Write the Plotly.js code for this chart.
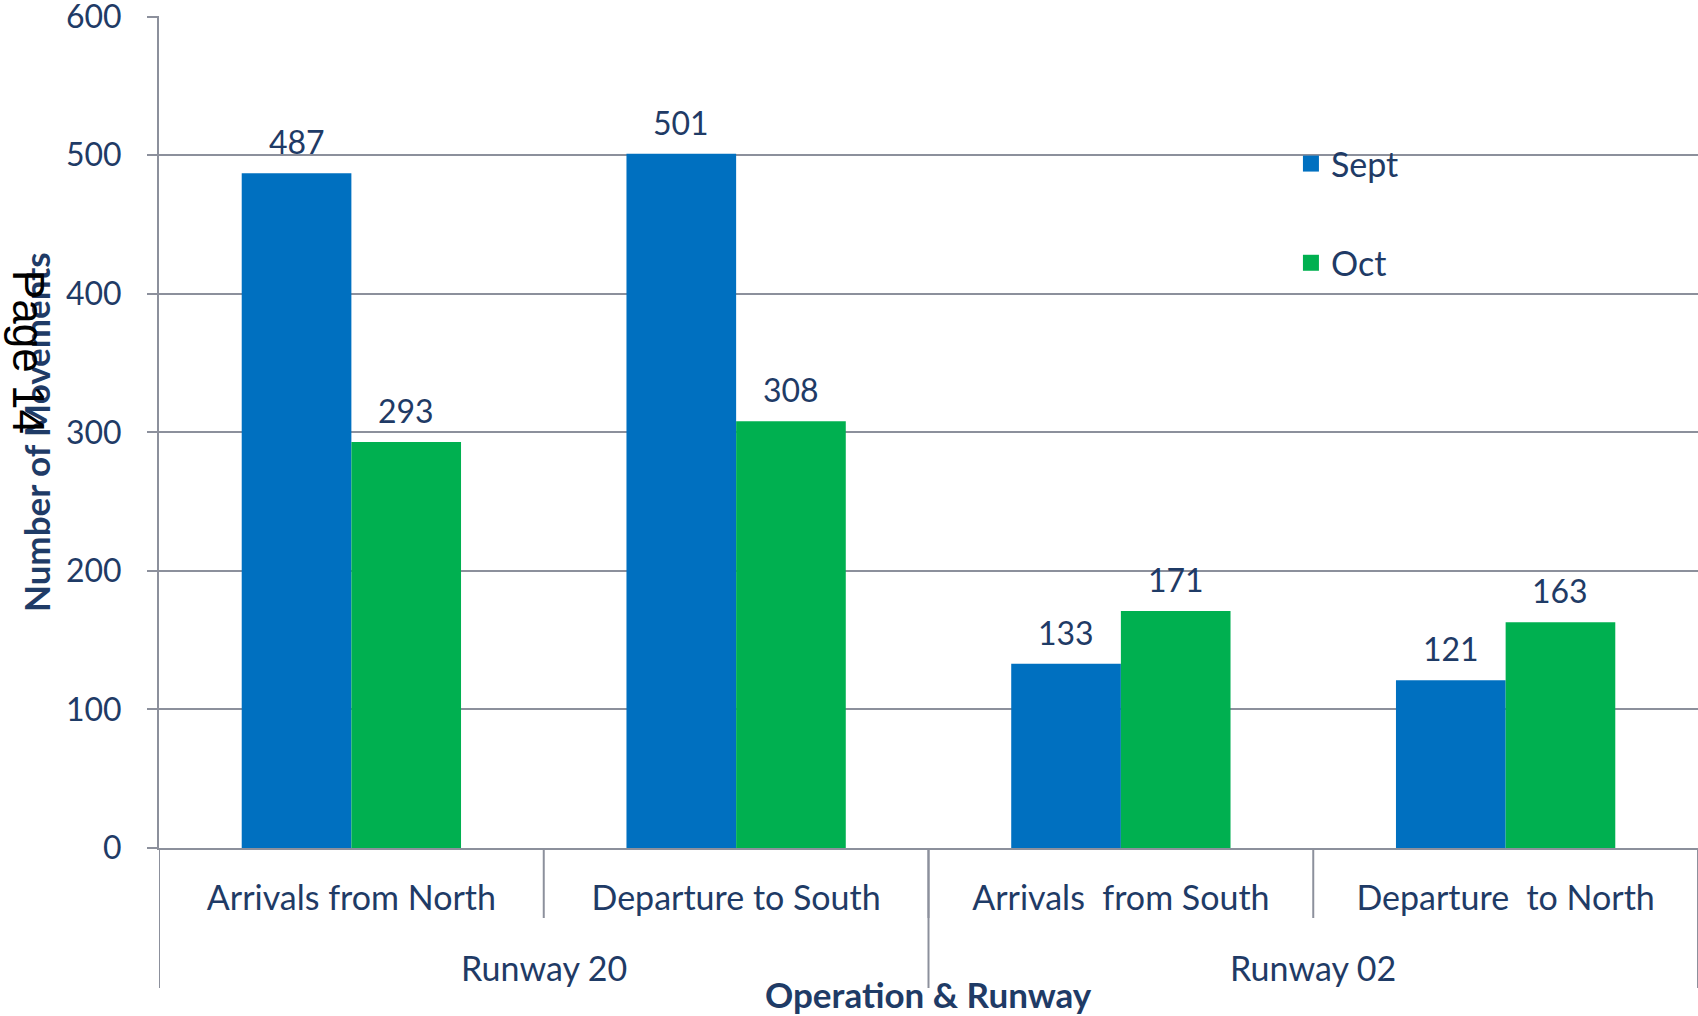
<!DOCTYPE html>
<html>
<head>
<meta charset="utf-8">
<script src="https://cdn.plot.ly/plotly-3.0.1.min.js"></script>
<style>
  html, body { margin: 0; padding: 0; background: #ffffff; }
  #chart { width: 1698px; height: 1016px; }
</style>
</head>
<body>
<div id="chart"></div>
<script>
// ---- data ----
const categories = ['Arrivals from North', 'Departure to South', 'Arrivals\u00A0 from South', 'Departure\u00A0 to North'];
const runways = ['Runway 20', 'Runway 20', 'Runway 02', 'Runway 02'];
const seriesNames = ['Sept', 'Oct'];
const septValues = [487, 501, 133, 121];
const octValues = [293, 308, 171, 163];
const yTickValues = [0, 100, 200, 300, 400, 500, 600];
const xTitle = 'Operation & Runway';
const yTitle = 'Number of Movements';
const pageText = 'Page 14';

// ---- style ----
const FONT = 'Lato, "Open Sans", sans-serif';
const NAVY = '#1F3B66';
const GRID = '#8C909C';
const BLUE = '#0070C0';
const GREEN = '#00B050';
const BARGAP = 0.43;
const PLOT_H = 832;

const barSept = {
  type: 'bar', name: seriesNames[0], x: categories, y: septValues,
  marker: { color: BLUE }, showlegend: false, hoverinfo: 'y'
};
const barOct = {
  type: 'bar', name: seriesNames[1], x: categories, y: octValues,
  marker: { color: GREEN }, showlegend: false, hoverinfo: 'y'
};
// legend entries (square swatches)
const legSept = {
  type: 'scatter', mode: 'markers', name: seriesNames[0], x: [null], y: [null],
  xaxis: 'x2', yaxis: 'y2', legendgroup: 'a',
  marker: { symbol: 'square', size: 19, color: BLUE }
};
const legOct = {
  type: 'scatter', mode: 'markers', name: seriesNames[1], x: [null], y: [null],
  xaxis: 'x2', yaxis: 'y2', legendgroup: 'b',
  marker: { symbol: 'square', size: 19, color: GREEN }
};

const n = categories.length;
const shapes = [];
// short dividers between every category
for (let i = 1; i < n; i++) {
  shapes.push({ type: 'line', xref: 'x', yref: 'paper', x0: i - 0.5, x1: i - 0.5,
    y0: 0, y1: -70 / PLOT_H, line: { color: GRID, width: 2 } });
}
// long dividers at runway-group boundaries
const groups = [];
for (let i = 0; i <= n; i++) {
  if (i === 0 || i === n || runways[i] !== runways[i - 1]) {
    shapes.push({ type: 'line', xref: 'x', yref: 'paper', x0: i - 0.5, x1: i - 0.5,
      y0: 0, y1: -140 / PLOT_H, line: { color: GRID, width: 2 } });
    if (i < n) groups.push({ name: runways[i], start: i });
  }
}
groups.forEach((g, k) => { g.end = (k + 1 < groups.length ? groups[k + 1].start : n) - 1; });

const annotations = [];
// group (runway) labels
groups.forEach(g => {
  annotations.push({ text: g.name, xref: 'x', yref: 'paper', x: (g.start + g.end) / 2,
    y: -119 / PLOT_H, xanchor: 'center', yanchor: 'middle', showarrow: false,
    font: { family: FONT, size: 34, color: NAVY } });
});
// data labels above bars
const off = (1 - BARGAP) / 4;
[[septValues, -off], [octValues, off]].forEach(([vals, dx]) => {
  vals.forEach((v, i) => {
    annotations.push({ text: String(v), xref: 'x', yref: 'y', x: i + dx, y: v,
      xanchor: 'center', yanchor: 'bottom', yshift: 10, showarrow: false,
      font: { family: FONT, size: 32, color: NAVY } });
  });
});
annotations.push(
  { text: xTitle, xref: 'paper', yref: 'paper', x: 0.5, y: -146 / PLOT_H,
    xanchor: 'center', yanchor: 'middle', showarrow: false,
    font: { family: FONT, size: 35, color: NAVY, weight: 'bold' } },
  { text: yTitle, xref: 'paper', yref: 'paper', x: -123 / 1539, y: 0.5,
    xanchor: 'center', yanchor: 'middle', showarrow: false, textangle: -90,
    font: { family: FONT, size: 35, color: NAVY, weight: 'bold' } },
  { text: pageText, xref: 'paper', yref: 'paper', x: -130 / 1539, y: (848 - 352) / PLOT_H,
    xanchor: 'center', yanchor: 'middle', showarrow: false, textangle: 90,
    font: { family: '"Liberation Sans", Arial, sans-serif', size: 44, color: '#000000' } }
);

const layout = {
  width: 1698, height: 1016,
  margin: { l: 159, r: 0, t: 16, b: 168 },
  paper_bgcolor: '#ffffff', plot_bgcolor: '#ffffff',
  font: { family: FONT, size: 32, color: NAVY },
  barmode: 'group', bargap: BARGAP, bargroupgap: 0,
  showlegend: true,
  legend: {
    x: 0.7355, y: 0.857, xanchor: 'left', yanchor: 'top',
    font: { family: FONT, size: 34, color: NAVY },
    bgcolor: 'rgba(0,0,0,0)', tracegroupgap: 52, traceorder: 'grouped',
    itemsizing: 'trace'
  },
  xaxis: {
    type: 'category', range: [-0.5, n - 0.5],
    showline: true, linecolor: GRID, linewidth: 2,
    showgrid: false, zeroline: false,
    ticks: 'outside', ticklen: 19, tickcolor: 'rgba(0,0,0,0)',
    tickfont: { family: FONT, size: 34, color: NAVY },
    automargin: false
  },
  yaxis: {
    range: [0, 600.5], tickvals: yTickValues, ticktext: yTickValues.map(String),
    showline: true, linecolor: GRID, linewidth: 2,
    showgrid: true, gridcolor: GRID, gridwidth: 2,
    zeroline: false, ticks: 'outside', ticklen: 10, tickwidth: 2, tickcolor: GRID,
    ticklabelstandoff: 19, ticklabeloverflow: 'allow',
    tickfont: { family: FONT, size: 32, color: NAVY },
    automargin: false
  },
  xaxis2: { visible: false, overlaying: 'x', range: [0, 1] },
  yaxis2: { visible: false, overlaying: 'y', range: [0, 1] },
  shapes: shapes,
  annotations: annotations
};

Plotly.newPlot('chart', [barSept, barOct, legSept, legOct], layout, { displayModeBar: false, staticPlot: true });
</script>
</body>
</html>
